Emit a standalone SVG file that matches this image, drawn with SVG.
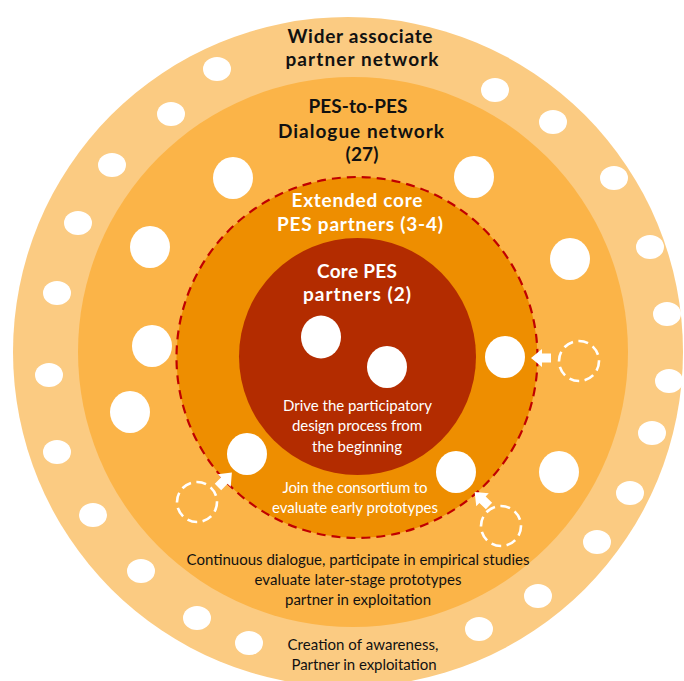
<svg xmlns="http://www.w3.org/2000/svg" width="684" height="681" viewBox="0 0 684 681">
<style>
.h{font-family:Lato,"Liberation Sans",sans-serif;font-weight:bold;font-size:19px;text-anchor:middle}
.b{fill:#111}
.w{fill:#fff}
.t{font-family:Lato,"Liberation Sans",sans-serif;font-size:15px;text-anchor:middle}
.dot{fill:#fff}
.cand{fill:none;stroke:#fff;stroke-width:2.6;stroke-dasharray:10 5.5}
.arr{fill:#fff}
</style>
<defs>
<polygon id="arrow" points="0,-4.5 9,-4.5 9,-9 20,0 9,9 9,4.5 0,4.5"/>
</defs>
<rect width="684" height="681" fill="#fff"/>
<g id="wider-network">
<circle cx="348" cy="352" r="335" fill="#FBCB82"/>
<text class="h b" x="360" y="43" textLength="145">Wider associate</text>
<text class="h b" x="362" y="66" textLength="153">partner network</text>
<text class="t b" x="363" y="650" textLength="151">Creation of awareness,</text>
<text class="t b" x="364" y="670" textLength="145">Partner in exploitation</text>
<g id="wider-dots">
<ellipse class="dot" cx="217" cy="69" rx="14" ry="12"/>
<ellipse class="dot" cx="171" cy="114" rx="14" ry="12"/>
<ellipse class="dot" cx="112" cy="165" rx="14" ry="12"/>
<ellipse class="dot" cx="78" cy="223" rx="14" ry="12"/>
<ellipse class="dot" cx="57" cy="293" rx="14" ry="12"/>
<ellipse class="dot" cx="49" cy="375" rx="14" ry="12"/>
<ellipse class="dot" cx="57" cy="452" rx="14" ry="12"/>
<ellipse class="dot" cx="93" cy="515" rx="14" ry="12"/>
<ellipse class="dot" cx="141" cy="571" rx="14" ry="12"/>
<ellipse class="dot" cx="197" cy="618" rx="14" ry="12"/>
<ellipse class="dot" cx="249" cy="643" rx="14" ry="12"/>
<ellipse class="dot" cx="495" cy="90" rx="14" ry="12"/>
<ellipse class="dot" cx="553" cy="122" rx="14" ry="12"/>
<ellipse class="dot" cx="614" cy="178" rx="14" ry="12"/>
<ellipse class="dot" cx="650" cy="247" rx="14" ry="12"/>
<ellipse class="dot" cx="667" cy="314" rx="14" ry="12"/>
<ellipse class="dot" cx="669" cy="381" rx="14" ry="12"/>
<ellipse class="dot" cx="652" cy="433" rx="14" ry="12"/>
<ellipse class="dot" cx="630" cy="493" rx="14" ry="12"/>
<ellipse class="dot" cx="597" cy="542" rx="14" ry="12"/>
<ellipse class="dot" cx="538" cy="596" rx="14" ry="12"/>
<ellipse class="dot" cx="479" cy="629" rx="14" ry="12"/>
</g>
</g>
<g id="dialogue-network">
<circle cx="353" cy="352" r="275" fill="#FBB448"/>
<text class="h b" x="358" y="113" textLength="99">PES-to-PES</text>
<text class="h b" x="361" y="138" textLength="166">Dialogue network</text>
<text class="h b" x="362" y="161" textLength="33">(27)</text>
<text class="t b" x="358" y="565" textLength="343">Continuous dialogue, participate in empirical studies</text>
<text class="t b" x="358" y="585" textLength="207">evaluate later-stage prototypes</text>
<text class="t b" x="358" y="605" textLength="146">partner in exploitation</text>
<g id="dialogue-dots">
<ellipse class="dot" cx="233" cy="178" rx="20" ry="21"/>
<ellipse class="dot" cx="474" cy="177" rx="20" ry="21"/>
<ellipse class="dot" cx="150" cy="247" rx="20" ry="21"/>
<ellipse class="dot" cx="570" cy="259" rx="20" ry="21"/>
<ellipse class="dot" cx="152" cy="346" rx="20" ry="21"/>
<ellipse class="dot" cx="130" cy="412" rx="20" ry="21"/>
<ellipse class="dot" cx="559" cy="472" rx="20" ry="21"/>
</g>
</g>
<g id="extended-core">
<circle cx="357" cy="357.5" r="180.5" fill="#EE8E00" stroke="#C00000" stroke-width="2.2" stroke-dasharray="9 6"/>
<text class="h w" x="357" y="207" textLength="131">Extended core</text>
<text class="h w" x="360" y="231" textLength="166">PES partners (3-4)</text>
<text class="t w" x="355" y="493" textLength="145">Join the consortium to</text>
<text class="t w" x="355" y="513" textLength="166">evaluate early prototypes</text>
<ellipse class="dot" cx="505" cy="357" rx="20" ry="21"/>
<ellipse class="dot" cx="247" cy="454" rx="20" ry="21"/>
<ellipse class="dot" cx="456" cy="472" rx="20" ry="21"/>
</g>
<g id="core">
<circle cx="357.5" cy="356.5" r="118.5" fill="#B32C00"/>
<text class="h w" x="357" y="278" textLength="80">Core PES</text>
<text class="h w" x="357" y="301" textLength="108">partners (2)</text>
<ellipse class="dot" cx="321" cy="337" rx="20" ry="21.5"/>
<ellipse class="dot" cx="387" cy="367" rx="20" ry="21"/>
<text class="t w" x="357.5" y="411" textLength="149">Drive the participatory</text>
<text class="t w" x="357" y="431" textLength="130">design process from</text>
<text class="t w" x="357" y="452" textLength="90">the beginning</text>
</g>
<g id="candidates">
<circle class="cand" cx="579" cy="361" r="20"/>
<circle class="cand" cx="197" cy="502" r="20"/>
<circle class="cand" cx="501" cy="526" r="20"/>
</g>
<g id="connectors">
<use class="arr" href="#arrow" transform="translate(551,358) rotate(180)"/>
<use class="arr" href="#arrow" transform="translate(218,487) rotate(-46)"/>
<use class="arr" href="#arrow" transform="translate(489,506) rotate(-136)"/>
</g>
</svg>
